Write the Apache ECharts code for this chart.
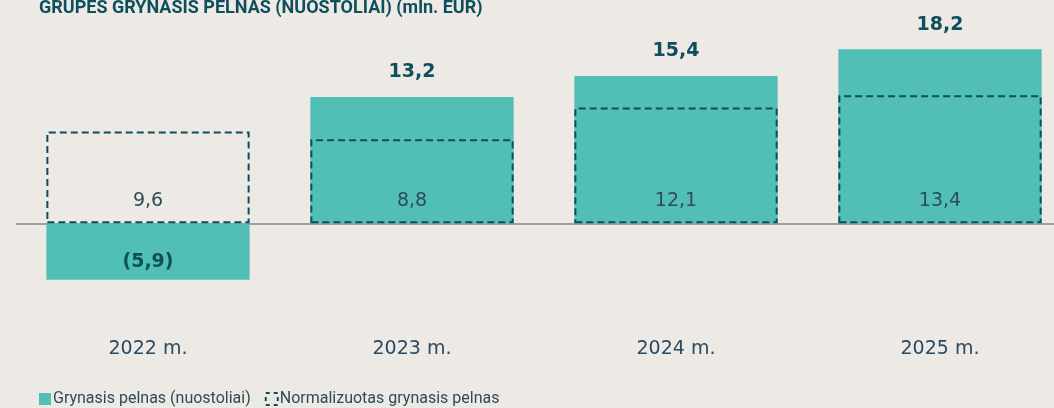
<!DOCTYPE html>
<html>
<head>
<meta charset="utf-8">
<script src="https://cdn.jsdelivr.net/npm/echarts@6/dist/echarts.min.js"></script>
<style>
  html, body { margin: 0; padding: 0; background: #ede9e5; }
  #chart { width: 1054px; height: 408px; }
</style>
</head>
<body>
<div id="chart"></div>
<script>
var years = ["2022 m.", "2023 m.", "2024 m.", "2025 m."];
var netProfit = [-5.9, 13.2, 15.4, 18.2];
var normalized = [9.6, 8.8, 12.1, 13.4];

var dark = "#0d4f5c";
var teal = "#52bfb7";
var narrow = "Roboto, sans-serif";
var wide = "'DejaVu Sans', sans-serif";

function fmt(v) {
  var s = Math.abs(v).toFixed(1).replace(".", ",");
  return v < 0 ? "(" + s + ")" : s;
}

var chart = echarts.init(document.getElementById("chart"));
var option = {
  backgroundColor: "#ede9e5",
  title: {
    text: "GRUPĖS GRYNASIS PELNAS (NUOSTOLIAI) (mln. EUR)",
    left: 34,
    top: -6,
    textStyle: { fontFamily: narrow, fontWeight: "bold", fontSize: 18, color: dark }
  },
  legend: {
    left: 34,
    bottom: -4,
    itemWidth: 12,
    itemHeight: 12,
    itemGap: 14,
    textStyle: { fontFamily: narrow, fontSize: 16, color: "#2d4b5b", padding: [0, 0, 0, -3] },
    data: [
      { name: "Grynasis pelnas (nuostoliai)", icon: "rect" },
      {
        name: "Normalizuotas grynasis pelnas",
        icon: "rect",
        itemStyle: { color: "rgba(0,0,0,0)", borderColor: dark, borderWidth: 2, borderType: [4, 4] }
      }
    ]
  },
  grid: { left: 16, right: -18, top: 32, bottom: 89, outerBoundsMode: "none" },
  xAxis: {
    type: "category",
    data: years,
    axisLine: { show: false, onZero: false },
    axisTick: { show: false },
    axisLabel: { fontFamily: wide, fontSize: 19, color: "#2a4a63", margin: 21 }
  },
  yAxis: {
    type: "value",
    min: -10,
    max: 20,
    interval: 10,
    show: false,
    splitLine: { show: false }
  },
  series: [
    {
      name: "Grynasis pelnas (nuostoliai)",
      type: "bar",
      barWidth: "77%",
      barGap: "-100%",
      itemStyle: { color: teal },
      data: netProfit.map(function (v) {
        return {
          value: v,
          label: {
            show: true,
            position: v < 0 ? "insideBottom" : "top",
            distance: v < 0 ? 8 : 15,
            formatter: function (p) { return fmt(p.value); },
            fontFamily: wide,
            fontWeight: "bold",
            fontSize: 19,
            color: dark
          }
        };
      }),
      markLine: {
        silent: true,
        symbol: "none",
        label: { show: false },
        lineStyle: { color: "#9aa0a3", width: 2, type: "solid" },
        data: [{ yAxis: 0 }],
        z: 1
      }
    },
    {
      name: "Normalizuotas grynasis pelnas",
      type: "bar",
      barWidth: "77%",
      itemStyle: {
        color: "rgba(0,0,0,0)",
        borderColor: dark,
        borderWidth: 2,
        borderType: [7, 4]
      },
      label: {
        show: true,
        position: "insideBottom",
        distance: 13,
        formatter: function (p) { return fmt(p.value); },
        fontFamily: wide,
        fontSize: 19,
        color: "#2d4b5b"
      },
      data: normalized
    }
  ]
};
chart.setOption(option);
</script>
</body>
</html>
